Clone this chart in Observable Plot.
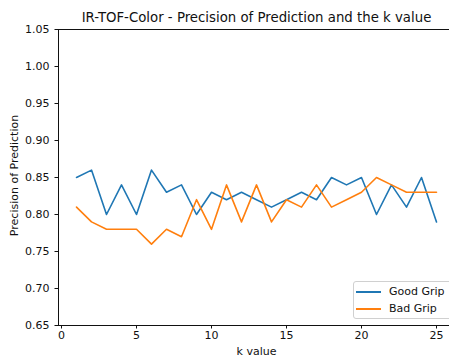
<!DOCTYPE html>
<html>
<head>
<meta charset="utf-8">
<script src="https://cdn.jsdelivr.net/npm/d3@7"></script>
<script src="https://cdn.jsdelivr.net/npm/@observablehq/plot@0.6"></script>
<style>
  html, body { margin: 0; padding: 0; background: #fff; overflow: hidden; }
  #wrap { position: relative; width: 449px; height: 358px; overflow: hidden; font-family: "DejaVu Sans", sans-serif; }
  #legend { position: absolute; left: 353px; top: 281px; width: 110px; height: 38px; box-sizing: border-box;
            border: 1px solid #d0d0d0; border-radius: 3px; background: rgba(255,255,255,0.8); font-size: 11px; color: #111; }
  .row { position: absolute; left: 2px; height: 13px; line-height: 13px; }
  .sw { position: absolute; left: 0; top: 6px; width: 25px; height: 0; border-top: 2px solid; }
  .lab { position: absolute; left: 33px; top: 0; white-space: nowrap; }
</style>
</head>
<body>
<div id="wrap"></div>
<script>
const kValues = d3.range(1, 26);
const goodGrip = [0.85,0.86,0.80,0.84,0.80,0.86,0.83,0.84,0.80,0.83,0.82,0.83,0.82,0.81,0.82,0.83,0.82,0.85,0.84,0.85,0.80,0.84,0.81,0.85,0.79];
const badGrip  = [0.81,0.79,0.78,0.78,0.78,0.76,0.78,0.77,0.82,0.78,0.84,0.79,0.84,0.79,0.82,0.81,0.84,0.81,0.82,0.83,0.85,0.84,0.83,0.83,0.83];
const seriesNames = ["Good Grip", "Bad Grip"];
const seriesColors = ["#1f77b4", "#ff7f0e"];
const xTicks = [0, 5, 10, 15, 20, 25];
const yTicks = [0.65, 0.70, 0.75, 0.80, 0.85, 0.90, 0.95, 1.00, 1.05];
const titleText = "IR-TOF-Color - Precision of Prediction and the k value";
const xLabel = "k value";
const yLabel = "Precision of Prediction";

const rows = [];
[goodGrip, badGrip].forEach((vals, s) => vals.forEach((v, i) => rows.push({k: kValues[i], v, series: seriesNames[s]})));

const chart = Plot.plot({
  width: 449,
  height: 358,
  marginLeft: 58,
  marginRight: -5,
  marginTop: 29,
  marginBottom: 33,
  style: {fontFamily: "DejaVu Sans, sans-serif", fontSize: "11px", color: "#111", background: "#fff", overflow: "hidden"},
  x: {domain: [-0.2, 26.2], range: [58, 454]},
  y: {domain: [0.65, 1.05], range: [325, 29]},
  color: {domain: seriesNames, range: seriesColors},
  marks: [
    Plot.axisX({ticks: xTicks, tickSize: 3.5, tickPadding: 2, label: null, tickFormat: d3.format("d"), fontSize: 11, stroke: "#111", color: "#111"}),
    Plot.axisY({ticks: yTicks, tickSize: 3.5, tickPadding: 5.5, label: null, tickFormat: d3.format(".2f"), fontSize: 11, stroke: "#111", color: "#111"}),
    Plot.ruleX([-0.2], {stroke: "#111", strokeWidth: 1}),
    Plot.ruleY([0.65], {stroke: "#111", strokeWidth: 1}),
    Plot.ruleY([1.05], {stroke: "#111", strokeWidth: 1}),
    Plot.line(rows, {x: "k", y: "v", z: "series", stroke: "series", strokeWidth: 1.6}),
    Plot.text([titleText], {frameAnchor: "top", dy: -12, lineAnchor: "middle", textAnchor: "middle", fontSize: 13.3, fill: "#111"}),
    Plot.text([xLabel], {frameAnchor: "bottom", dy: 26, lineAnchor: "middle", textAnchor: "middle", fontSize: 11, fill: "#111"}),
    Plot.text([yLabel], {frameAnchor: "left", dx: -44, dy: -2, rotate: -90, lineAnchor: "middle", textAnchor: "middle", fontSize: 11, fill: "#111"})
  ]
});

const wrap = document.getElementById("wrap");
wrap.appendChild(chart);
const legend = document.createElement("div");
legend.id = "legend";
seriesNames.forEach((name, i) => {
  const row = document.createElement("div");
  row.className = "row";
  row.style.top = (3 + i * 17) + "px";
  row.innerHTML = `<span class="sw" style="border-color:${seriesColors[i]}"></span><span class="lab">${name}</span>`;
  legend.appendChild(row);
});
wrap.appendChild(legend);
</script>
</body>
</html>
